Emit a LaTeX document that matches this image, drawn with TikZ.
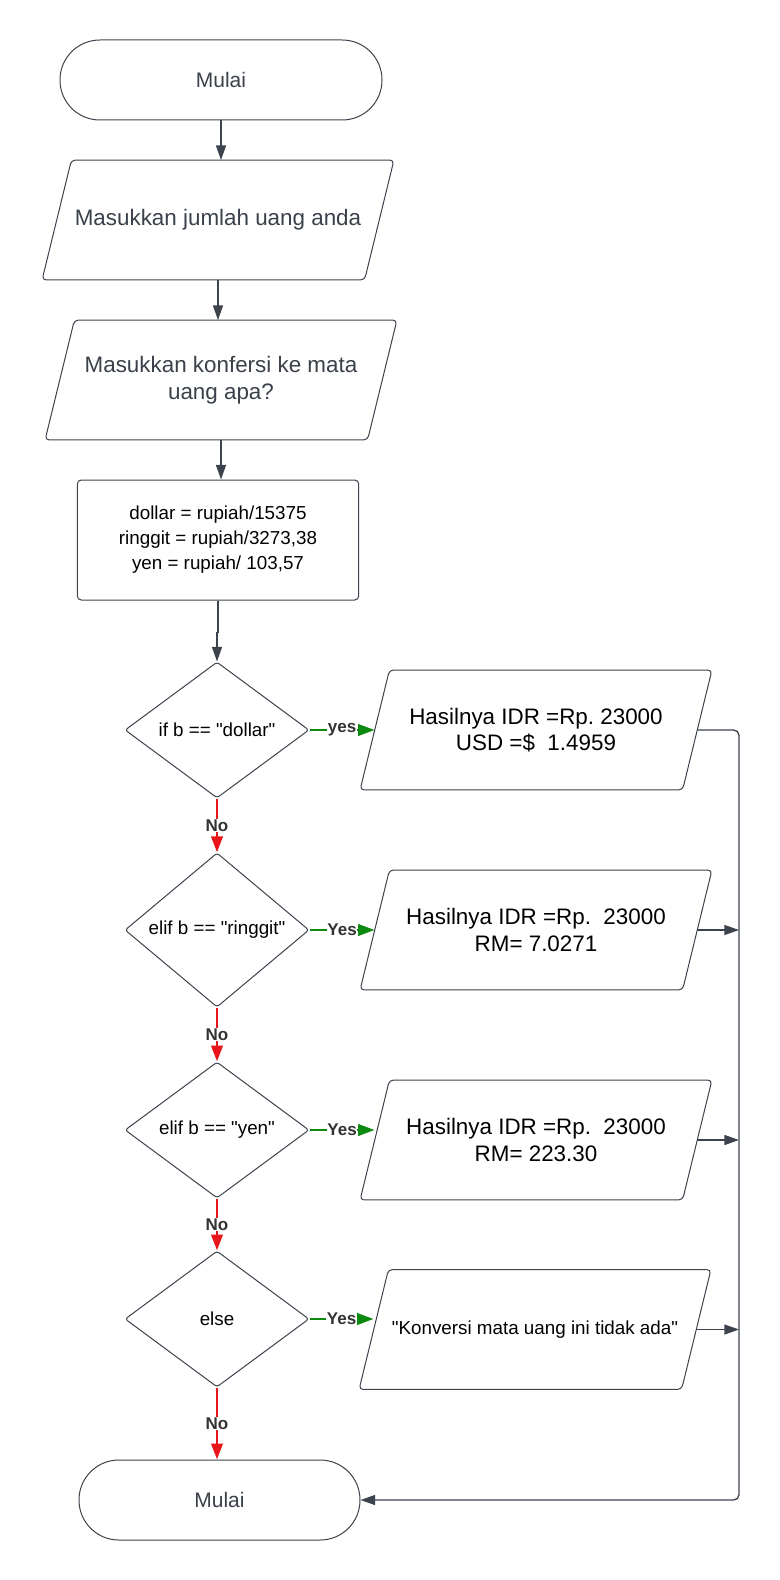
\documentclass[tikz,border=0pt]{standalone}
\usepackage{fontspec}
\setmainfont{Liberation Sans}[Ligatures=TeXOff]
\usetikzlibrary{arrows.meta,shapes.geometric}
\definecolor{Coal}{HTML}{3D434D}
\definecolor{Slate}{HTML}{3A414A}
\definecolor{Green}{HTML}{0B8A10}
\definecolor{Red}{HTML}{E8161B}
\definecolor{Tag}{HTML}{333333}
\frenchspacing
\tikzset{
  base/.style={draw=Coal,line width=0.75pt,fill=white,align=center,inner sep=0pt},
  term/.style={base,rectangle,rounded corners=29.9pt,minimum height=60pt},
  io/.style={rectangle,align=center,inner sep=0pt,minimum width=241.5pt,minimum height=89.5pt,
    append after command={\pgfextra{\draw[draw=Coal,line width=0.75pt,rounded corners=3pt]
      ([xshift=11pt]\tikzlastnode.north west) -- ([xshift=11pt]\tikzlastnode.north east)
      -- ([xshift=-11pt]\tikzlastnode.south east) -- ([xshift=-11pt]\tikzlastnode.south west) -- cycle;}}},
  calcbox/.style={base,rectangle,rounded corners=3pt},
  decide/.style={base,diamond,rounded corners=2pt,minimum width=138pt,minimum height=102pt},
  bigtext/.style={font=\fontsize{16.8}{20}\selectfont},
  smalltext/.style={font=\fontsize{14.1}{18.75}\selectfont},
  flow/.style={draw=Coal,line width=1pt,-{Triangle[length=11pt,width=7.5pt]}},
  yesflow/.style={draw=Green,line width=2.2pt,-{Triangle[length=12.5pt,width=8.5pt]}},
  noflow/.style={draw=Red,line width=2.2pt,-{Triangle[length=12pt,width=8.5pt]}},
  tag/.style={font=\fontsize{12.75}{15}\selectfont\bfseries,text=Tag,fill=white,inner sep=0.5pt}
}
\begin{document}
\begin{tikzpicture}[x=0.75pt,y=-0.75pt]
  \fill[white] (0,0) rectangle (779,1580);
  \useasboundingbox (0,0) rectangle (779,1580);
  % main column
  \node[term,minimum width=241.5pt,font=\fontsize{15.75}{19}\selectfont,text=Slate] (start) at (221,80) {Mulai};
  \node[io,bigtext,text=Slate] (inp1) at (218,220) {Masukkan jumlah uang anda};
  \node[io,bigtext,text=Slate] (inp2) at (221,380) {Masukkan konfersi ke mata\\uang apa?};
  \node[calcbox,smalltext,minimum width=211pt,minimum height=90pt] (calc) at (218,540)
    {dollar = rupiah/15375\\ringgit = rupiah/3273,38\\yen = rupiah/ 103,57};
  \node[decide,smalltext] (d1) at (217,730) {if b == "dollar"};
  \node[decide,smalltext] (d2) at (217,930) {elif b == "ringgit"};
  \node[decide,smalltext] (d3) at (217,1130) {elif b == "yen"};
  \node[decide,smalltext] (d4) at (217,1319) {else};
  \node[term,minimum width=210.75pt,font=\fontsize{15.75}{19}\selectfont,text=Slate] (stop) at (219.5,1500) {Mulai};
  % result column
  \node[io,bigtext] (par3) at (536,730) {Hasilnya IDR =Rp. 23000\\USD =\$~~1.4959};
  \node[io,bigtext] (par4) at (536,930) {Hasilnya IDR =Rp.~~23000\\RM= 7.0271};
  \node[io,bigtext] (par5) at (536,1140) {Hasilnya IDR =Rp.~~23000\\RM= 223.30};
  \node[io,smalltext] (par6) at (535,1329.5) {"Konversi mata uang ini tidak ada"};
  \coordinate (rail) at (739,1500);
  % connectors
  \draw[flow] (start.south) -- (start.south |- inp1.north);
  \draw[flow] (inp1.south) -- (inp1.south |- inp2.north);
  \draw[flow] (inp2.south) -- (inp2.south |- calc.north);
  \draw[flow] (calc.south) -- ++(0,32) -| (d1.north);
  \draw[yesflow] (d1.east) -- node[tag] {yes} (d1.east -| par3.west);
  \draw[yesflow] (d2.east) -- node[tag] {Yes} (d2.east -| par4.west);
  \draw[yesflow] (d3.east) -- node[tag] {Yes} (d3.east -| par5.west);
  \draw[yesflow] (d4.east) -- node[tag] {Yes} (d4.east -| par6.west);
  \draw[noflow] (d1.south) -- node[tag] {No} (d2.north);
  \draw[noflow] (d2.south) -- node[tag] {No} (d3.north);
  \draw[noflow] (d3.south) -- node[tag] {No} (d4.north);
  \draw[noflow] (d4.south) -- node[tag] {No} (d4.south |- stop.north);
  \draw[flow,rounded corners=4pt] (par3.east) -| (rail) -- (stop.east);
  \draw[flow] (par4.east) -- (par4.east -| rail);
  \draw[flow] (par5.east) -- (par5.east -| rail);
  \draw[flow] (par6.east) -- (par6.east -| rail);
\end{tikzpicture}
\end{document}
